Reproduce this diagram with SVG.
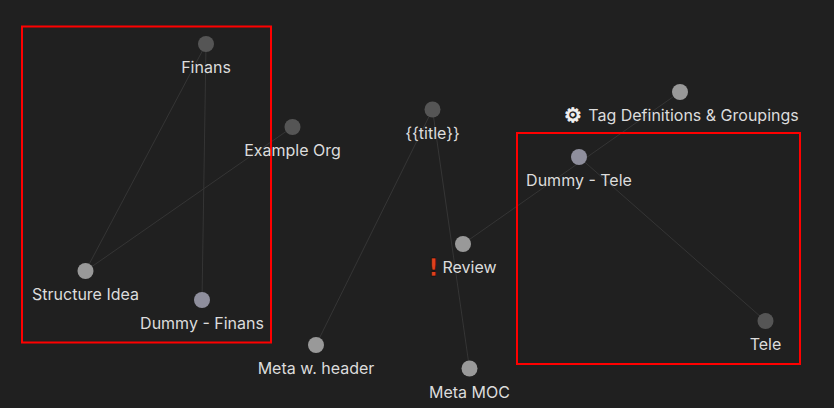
<svg xmlns="http://www.w3.org/2000/svg" width="834" height="408" viewBox="0 0 834 408">
<style>
.bg{fill:#202020}
.box{fill:none;stroke:#f00;stroke-width:2}
.edge{stroke:#353535;stroke-width:1;fill:none}
text{font-family:"Inter","Noto Sans",sans-serif;font-size:16px;fill:#dcdcdc;text-anchor:middle}
text.gear{font-family:"DejaVu Sans",sans-serif;font-size:20px;fill:#f2f2f2;stroke:#f2f2f2;stroke-width:.9px}
text.bang{font-family:"DejaVu Sans",sans-serif;font-size:24px;font-weight:bold;fill:#e0401c;stroke:#000;stroke-width:.5px}
.a{fill:#555}.b{fill:#999}.c{fill:#8f8f9d}
</style>
<rect class="bg" width="834" height="408"/>
<g id="connectors">
<line class="edge" x1="206" y1="44" x2="85.500" y2="271"/>
<line class="edge" x1="206" y1="44" x2="202" y2="300"/>
<line class="edge" x1="292.500" y1="127" x2="85.500" y2="271"/>
<line class="edge" x1="432.500" y1="109.500" x2="316" y2="345"/>
<line class="edge" x1="432.500" y1="109.500" x2="469.500" y2="368.500"/>
<line class="edge" x1="680" y1="92" x2="463" y2="244"/>
<line class="edge" x1="579" y1="157" x2="765.500" y2="321"/>
</g>
<g id="frames">
<rect class="box" x="22" y="26.500" width="249" height="316"/>
<rect class="box" x="517" y="133" width="283" height="231"/>
</g>
<g id="n-finans"><circle class="a" cx="206" cy="44" r="8"/><text x="206" y="73">Finans</text></g>
<g id="n-example"><circle class="a" cx="292.500" cy="127" r="8"/><text x="292.500" y="156">Example Org</text></g>
<g id="n-title"><circle class="a" cx="432.500" cy="109.500" r="8"/><text x="432.500" y="138.500">{{title}}</text></g>
<g id="n-tag"><circle class="b" cx="680" cy="92" r="8"/><text class="gear" x="573" y="122">⚙</text><text x="693.500" y="120.500">Tag Definitions &amp; Groupings</text></g>
<g id="n-dtele"><circle class="c" cx="579" cy="157" r="8"/><text x="579" y="185.500">Dummy - Tele</text></g>
<g id="n-review"><circle class="b" cx="463" cy="244" r="8"/><text class="bang" x="433.500" y="276">!</text><text x="469.500" y="272.500">Review</text></g>
<g id="n-tele"><circle class="a" cx="765.500" cy="321" r="8"/><text x="765.500" y="349.500">Tele</text></g>
<g id="n-structure"><circle class="b" cx="85.500" cy="271" r="8"/><text x="85.500" y="299.500">Structure Idea</text></g>
<g id="n-dfinans"><circle class="c" cx="202" cy="300" r="8"/><text x="202" y="329">Dummy - Finans</text></g>
<g id="n-metaw"><circle class="b" cx="316" cy="345" r="8"/><text x="316" y="373.500">Meta w. header</text></g>
<g id="n-metamoc"><circle class="b" cx="469.500" cy="368.500" r="8"/><text x="469.500" y="397.500">Meta MOC</text></g>
</svg>
